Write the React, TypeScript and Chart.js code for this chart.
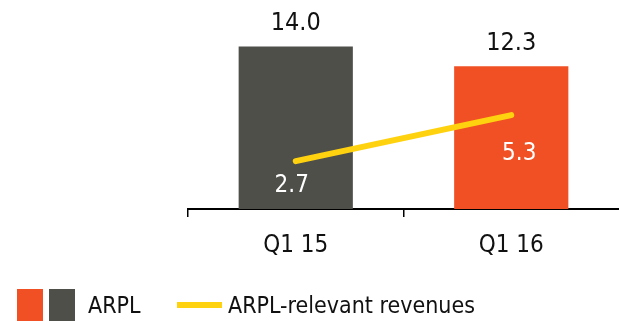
import React, { useEffect, useRef } from "react";
import { Chart, registerables } from "chart.js";

Chart.register(...registerables);

const categories = ["Q1 15", "Q1 16"];
const arplValues = [14.0, 12.3];
const revenueValues = [2.7, 5.3];
const legendLabels = ["ARPL", "ARPL-relevant revenues"];

const GRAY = "#4f4f4a";
const ORANGE = "#f05023";
const YELLOW = "#ffd20f";
const FONT = "'DejaVu Sans Condensed', 'DejaVu Sans', sans-serif";

const labelPlugin = {
  id: "valueLabels",
  afterDatasetsDraw(chart: any) {
    const ctx = chart.ctx;
    ctx.save();
    ctx.font = `25px ${FONT}`;
    ctx.textAlign = "center";
    ctx.textBaseline = "middle";
    const barMeta = chart.getDatasetMeta(0);
    barMeta.data.forEach((el: any, i: number) => {
      ctx.fillStyle = "#111";
      ctx.fillText(arplValues[i].toFixed(1), el.x, el.y - 23);
    });
    ctx.font = `24px ${FONT}`;
    const lineMeta = chart.getDatasetMeta(1);
    const offs = [
      { dx: -4, dy: 25 },
      { dx: 8, dy: 39 },
    ];
    lineMeta.data.forEach((el: any, i: number) => {
      ctx.fillStyle = "#fff";
      ctx.fillText(revenueValues[i].toFixed(1), el.x + offs[i].dx, el.y + offs[i].dy);
    });
    ctx.restore();
  },
  afterDraw(chart: any) {
    const ctx = chart.ctx;
    ctx.save();
    ctx.fillStyle = ORANGE;
    ctx.fillRect(17, 289, 26, 32);
    ctx.fillStyle = GRAY;
    ctx.fillRect(49, 289, 26, 32);
    ctx.font = `23px ${FONT}`;
    ctx.textAlign = "left";
    ctx.textBaseline = "middle";
    ctx.fillStyle = "#111";
    ctx.fillText(legendLabels[0], 88, 307);
    ctx.fillStyle = YELLOW;
    ctx.fillRect(177, 302, 45, 6);
    ctx.fillStyle = "#111";
    ctx.fillText(legendLabels[1], 228, 307);
    ctx.restore();
  },
};

export default function App() {
  const ref = useRef<HTMLCanvasElement>(null);
  useEffect(() => {
    if (!ref.current) return;
    const chart = new Chart(ref.current, {
      type: "bar",
      data: {
        labels: categories,
        datasets: [
          {
            type: "bar",
            label: legendLabels[0],
            data: arplValues,
            backgroundColor: [GRAY, ORANGE],
            barPercentage: 0.53,
            categoryPercentage: 1,
            yAxisID: "y",
            order: 2,
          },
          {
            type: "line",
            label: legendLabels[1],
            data: revenueValues,
            borderColor: YELLOW,
            borderWidth: 6,
            borderCapStyle: "round",
            pointRadius: 0,
            yAxisID: "y2",
            order: 1,
          } as any,
        ],
      },
      options: {
        responsive: false,
        animation: false,
        layout: { padding: { left: 188, right: 0, top: 0, bottom: 0 } },
        plugins: { legend: { display: false }, tooltip: { enabled: false } },
        scales: {
          x: {
            offset: true,
            grid: {
              offset: true,
              drawOnChartArea: false,
              drawTicks: true,
              tickLength: 8,
              color: (c: any) => (c.tick ? "#000" : "rgba(0,0,0,0)"),
              lineWidth: 1.5,
            },
            border: { display: true, color: "#000", width: 2 },
            ticks: {
              padding: 14,
              color: "#111",
              font: { size: 24, family: FONT },
            },
            afterFit: (scale: any) => {
              scale.height = 112;
            },
          },
          y: { display: false, min: 0, max: 18 },
          y2: { display: false, min: 0, max: 11.8 },
        },
      },
      plugins: [labelPlugin],
    });
    return () => chart.destroy();
  }, []);
  return (
    <div style={{ position: "absolute", left: 0, top: 0, width: 619, height: 321 }}>
      <canvas ref={ref} width={619} height={321} style={{ display: "block" }} />
    </div>
  );
}
